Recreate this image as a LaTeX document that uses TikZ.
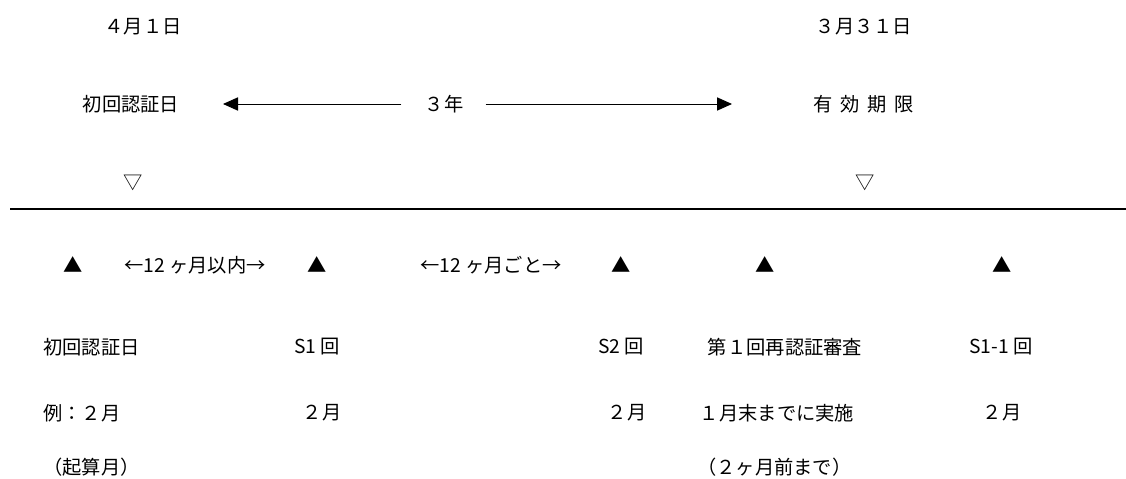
\documentclass[tikz,border=0pt]{standalone}
\usepackage{fontspec}
\setmainfont{Noto Sans CJK JP}
\usetikzlibrary{arrows.meta,positioning}

\begin{document}
\begin{tikzpicture}[
    x=0.025cm, y=-0.025cm,
    lbl/.style={inner sep=0pt, font=\fontsize{13.7}{16}\selectfont},
    lft/.style={lbl, anchor=west},
    arr/.style={-{Triangle[length=0.375cm, width=0.33cm]}, line width=0.7pt},
]
\useasboundingbox (0,0) rectangle (1126,479);

% Dates
\node[lbl] (dstart) at (143,27) {４月１日};
\node[lbl] (dend) at (864,27) {３月３１日};

% Period of validity
\node[lbl] (first) at (131,104) {初回認証日};
\node[lbl] (yr) at (444,104) {３年};
\node[lbl] (limit) at (864,104) {有\hspace{0.4em}効\hspace{0.4em}期\hspace{0.4em}限};
\coordinate (ltip) at (223,104);
\coordinate (rtip) at (732,104);
\draw[arr, shorten <=0.575cm] (yr.west) -- (ltip);
\draw[arr, shorten <=0.55cm] (yr.east) -- (rtip);

% Open markers
\node[lbl] (ostart) at (133,183) {▽};
\node[lbl] (oend) at (865,183) {▽};

% Time line
\coordinate (tl) at (10,209);
\coordinate (tr) at (1126,209);
\draw[line width=1.4pt] (tl) -- (tr);

% Filled markers and intervals
\node[lbl] (t0) at (73,265) {▲};
\node[lbl] (gap1) at (195,265) {←12 ヶ月以内→};
\node[lbl] (t1) at (317,265) {▲};
\node[lbl] (gap2) at (491,265) {←12 ヶ月ごと→};
\node[lbl] (t2) at (621,265) {▲};
\node[lbl] (t3) at (765,265) {▲};
\node[lbl] (t4) at (1002,265) {▲};

% Events
\node[lft] (e0) at (43,347) {初回認証日};
\node[lbl] (e1) at (317,347) {S1 回};
\node[lbl] (e2) at (621,347) {S2 回};
\node[lbl] (e3) at (785,347) {第１回再認証審査};
\node[lbl] (e4) at (1001,347) {S1-1 回};

% Months
\node[lft] (m0) at (43,413) {例：２月};
\node[lbl] (m1) at (322,413) {２月};
\node[lbl] (m2) at (627,413) {２月};
\node[lbl] (m3) at (777,413) {１月末までに実施};
\node[lbl] (m4) at (1002,413) {２月};

% Notes
\node[lft] (n0) at (43,467) {（起算月）};
\node[lft] (n3) at (697,467) {（２ヶ月前まで）};

\end{tikzpicture}
\end{document}
